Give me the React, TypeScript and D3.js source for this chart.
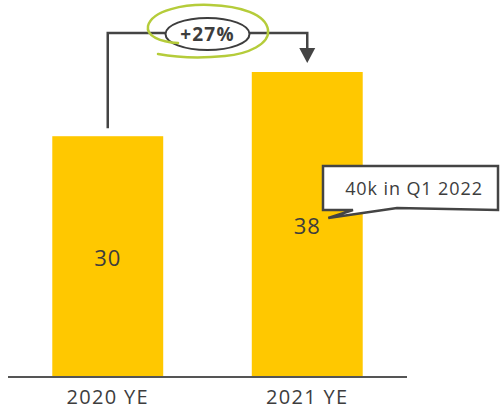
import React from "react";
import * as d3 from "d3";

const categories = ["2020 YE", "2021 YE"];
const values = [30, 38];
const changeLabel = "+27%";
const calloutText = "40k in Q1 2022";

const W = 500;
const H = 409;
const FONT = "'Open Sans', 'DejaVu Sans', sans-serif";
const TEXT = "#3d3d3d";
const BAR = "#FFC800";

export default function App() {
  const x = d3.scaleBand<string>().domain(categories).range([8, 407]).paddingInner(0.444).paddingOuter(0.222);
  const y = d3.scaleLinear().domain([0, 38]).range([377, 72]);
  const bw = x.bandwidth();
  const cx = (c: string) => (x(c) as number) + bw / 2;

  const x0 = cx(categories[0]);
  const x1 = cx(categories[1]);
  const topY = 33;
  const leftStart = y(values[0]) - 8;
  const arrowTip = y(values[1]) - 9;
  const mid = (x0 + x1) / 2;

  const green = "M178,43 C160,42 146,36 148,26 C152,10 185,4 210,5 C240,6 266,14 268,30 C270,44 248,54 225,56 C205,58 180,58 158,54";

  const bx0 = 323, bx1 = 498, by0 = 166, by1 = 210;
  const tipX = x1 + 21;
  const calloutPath = `M${bx0},${by0} L${bx1},${by0} L${bx1},${by1} L397,${by1 - 2} L${tipX},218 L353,${by1} L${bx0},${by1} Z`;

  return (
    <svg width={W} height={H} style={{ display: "block", position: "absolute", left: 0, top: 0 }}>
      {categories.map((c, i) => (
        <rect key={c} x={x(c)} y={y(values[i])} width={bw} height={y(0) - y(values[i])} fill={BAR} />
      ))}
      <line x1={8} x2={407} y1={y(0)} y2={y(0)} stroke="#555" strokeWidth={2} />
      {categories.map((c) => (
        <text key={c} x={cx(c)} y={404} textAnchor="middle" fontFamily={FONT} fontSize={20} letterSpacing={1.3} fill={TEXT}>
          {c}
        </text>
      ))}
      <text x={x0} y={266} textAnchor="middle" fontFamily={FONT} fontSize={22} letterSpacing={1} fill={TEXT}>
        {values[0]}
      </text>
      <text x={x1} y={234} textAnchor="middle" fontFamily={FONT} fontSize={22} letterSpacing={1} fill={TEXT}>
        {values[1]}
      </text>

      <path d={`M${x0},${leftStart} L${x0},${topY} L${x1},${topY} L${x1},${arrowTip - 14}`} fill="none" stroke="#444" strokeWidth={2.5} />
      <path d={`M${x1 - 8},${arrowTip - 15} L${x1 + 8},${arrowTip - 15} L${x1},${arrowTip} Z`} fill="#444" />
      <ellipse cx={mid} cy={34} rx={42} ry={16} fill="#fff" stroke="#3d3d3d" strokeWidth={2} />
      <text x={mid} y={40.5} textAnchor="middle" fontFamily={FONT} fontWeight={700} fontSize={19} letterSpacing={1.2} fill={TEXT}>
        {changeLabel}
      </text>
      <path d={green} fill="none" stroke="#b5cc3a" strokeWidth={2.5} strokeLinecap="round" />

      <path d={calloutPath} fill="#fff" stroke="#444" strokeWidth={2.5} strokeLinejoin="miter" />
      <text x={414} y={195} textAnchor="middle" fontFamily={FONT} fontSize={18} letterSpacing={0.9} fill={TEXT}>
        {calloutText}
      </text>
    </svg>
  );
}
